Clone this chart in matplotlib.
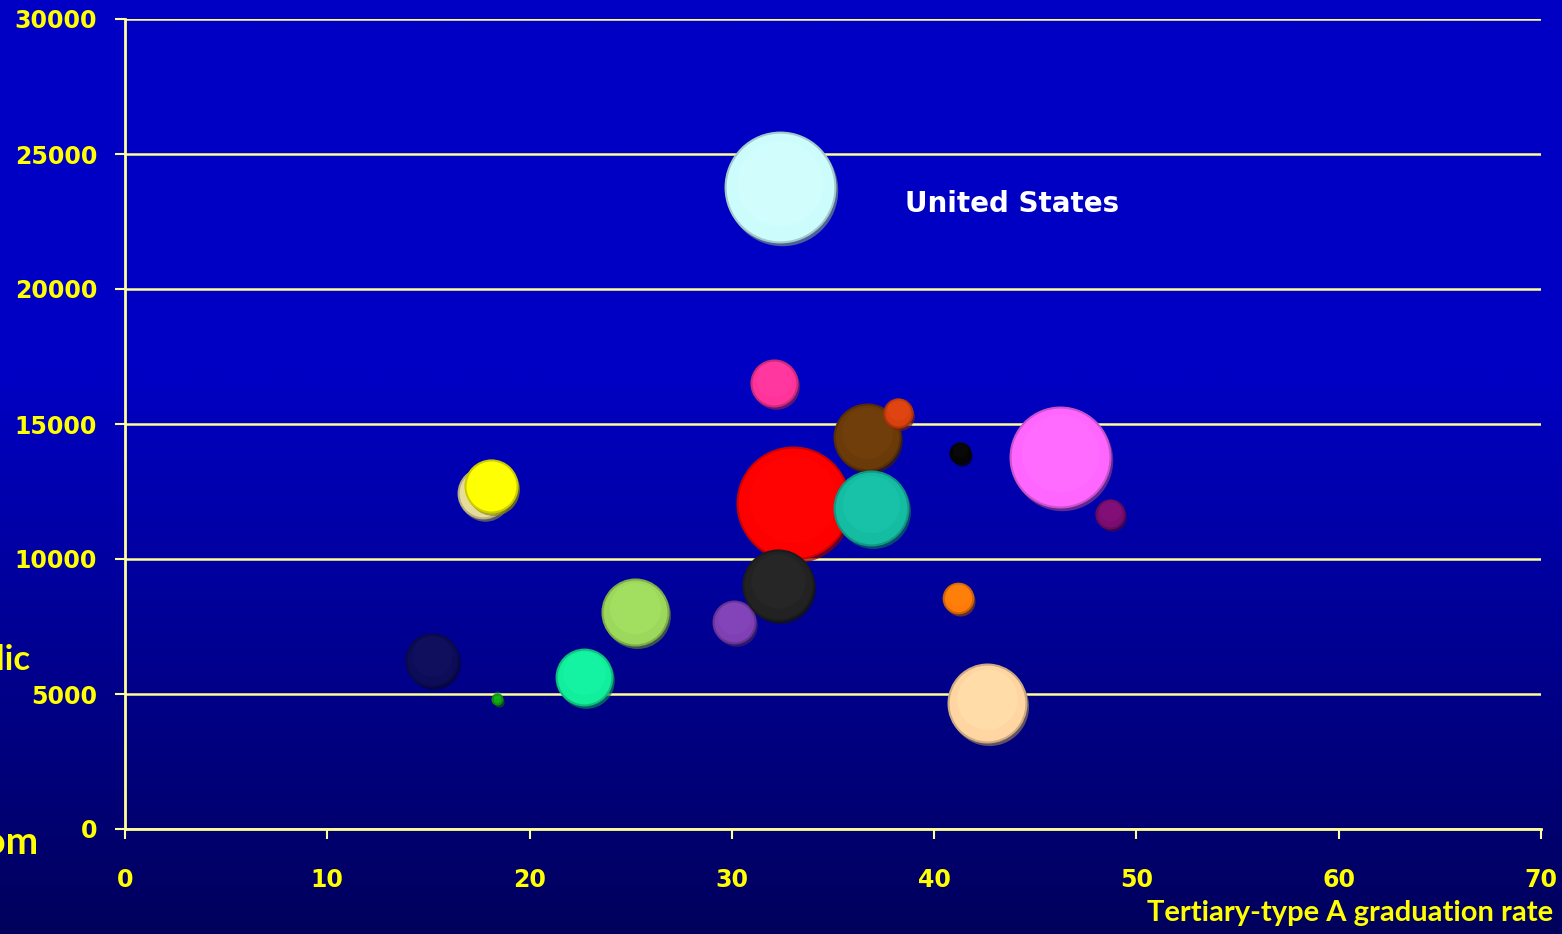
import numpy as np
import matplotlib.pyplot as plt
from matplotlib import transforms
from matplotlib.colors import to_rgb

# Data (x = graduation rate, y = spending, bubble = relative size)
grad_rate = [17.7, 18.1, 15.2, 18.4, 22.7, 25.2, 30.1, 33.0, 36.7, 38.2, 32.1,
             36.9, 32.3, 41.3, 41.2, 42.6, 46.2, 48.7, 32.4]
spending = [12450, 12700, 6260, 4820, 5630, 8040, 7670, 12070, 14520, 15400, 16520,
            11890, 9040, 13930, 8560, 4670, 13780, 11670, 23780]
bubble = [62, 68, 68, 2.5, 78, 109, 44, 314, 109, 20, 53,
          137, 123, 10, 22, 152, 250, 20, 302]
colors = ['#E6DC9C', '#FFFF00', '#0C0C58', '#11AA11', '#11EE9C', '#9CD85C', '#7E40B4',
          '#FF0000', '#6A3A08', '#D8400E', '#FF3399', '#14BCA2', '#222222', '#050505',
          '#FF7A08', '#FFD5A2', '#FF66FF', '#7C0C72', '#CCFCFC']
label_text = 'United States'

fig = plt.figure(figsize=(15.62, 9.34), dpi=100)

# blue gradient background
bg = fig.add_axes([0, 0, 1, 1], zorder=-1)
t = np.linspace(0, 1, 400)
shade = np.where(t < 0.4, 0.0, (t - 0.4) / 0.6)
top, bot = np.array([0, 0, 196]) / 255, np.array([0, 0, 92]) / 255
grad = top[None, :] * (1 - shade[:, None]) + bot[None, :] * shade[:, None]
bg.imshow(grad[:, None, :], aspect='auto', extent=[0, 1, 0, 1])
bg.axis('off')

ax = fig.add_axes([125 / 1562, 1 - 829 / 934, (1541 - 125) / 1562, (829 - 19) / 934])
ax.patch.set_alpha(0)
ax.set_xlim(0, 70)
ax.set_ylim(0, 30000)
ax.set_xticks(range(0, 71, 10))
ax.set_yticks(range(0, 30001, 5000))
ax.grid(axis='y', color='#FFFF99', lw=1.8)
ax.set_axisbelow(True)
for side in ['top', 'right']:
    ax.spines[side].set_visible(False)
for side in ['left', 'bottom']:
    ax.spines[side].set_color('#FFFF99')
    ax.spines[side].set_linewidth(2)
ax.tick_params(axis='both', colors='#FFFF99', length=7, width=1.5,
               labelcolor='#FFFF00', labelsize=17)
ax.tick_params(axis='y', pad=13)
ax.tick_params(axis='x', pad=21)
for lbl in ax.get_xticklabels() + ax.get_yticklabels():
    lbl.set_fontweight('bold')

# bubbles with a soft shadow and darker rim
sizes = np.array(bubble) * 20.7
shadow_tr = transforms.offset_copy(ax.transData, fig=fig, x=2, y=-3, units='dots')
for x, y, s, c in zip(grad_rate, spending, sizes, colors):
    rgb = np.array(to_rgb(c))
    ax.scatter(x, y, s=s * 1.03, color=rgb * 0.55, alpha=0.7, transform=shadow_tr,
               linewidths=0, zorder=3)
    ax.scatter(x, y, s=s, color=c, edgecolors=tuple(rgb * 0.8), linewidths=1.5, zorder=3)
    ax.scatter(x, y + 150, s=s * 0.6, color=tuple(np.minimum(rgb * 1.05 + 0.04, 1)),
               alpha=0.35, linewidths=0, zorder=3)

ax.text(905 / 1562, 1 - 204 / 934, label_text, transform=fig.transFigure, color='white',
        fontsize=20, fontweight='bold', va='center', ha='left')

fig.text(1553 / 1562, 1 - 913 / 934, 'Tertiary-type A graduation rate', color='#FFFF00',
         fontsize=21, fontweight='bold', family='Lato', ha='right', va='center')

# y-axis title, cut off at the left edge as in the original slide
fig.text(31 / 1562, 1 - 660 / 934, 'public', color='#FFFF00', fontsize=25,
         fontweight='bold', family='Lato', ha='right', va='center')
fig.text(38 / 1562, 1 - 842 / 934, 'from', color='#FFFF00', fontsize=28,
         fontweight='bold', family='Lato', ha='right', va='center')

fig.savefig('out.png', dpi=100)
